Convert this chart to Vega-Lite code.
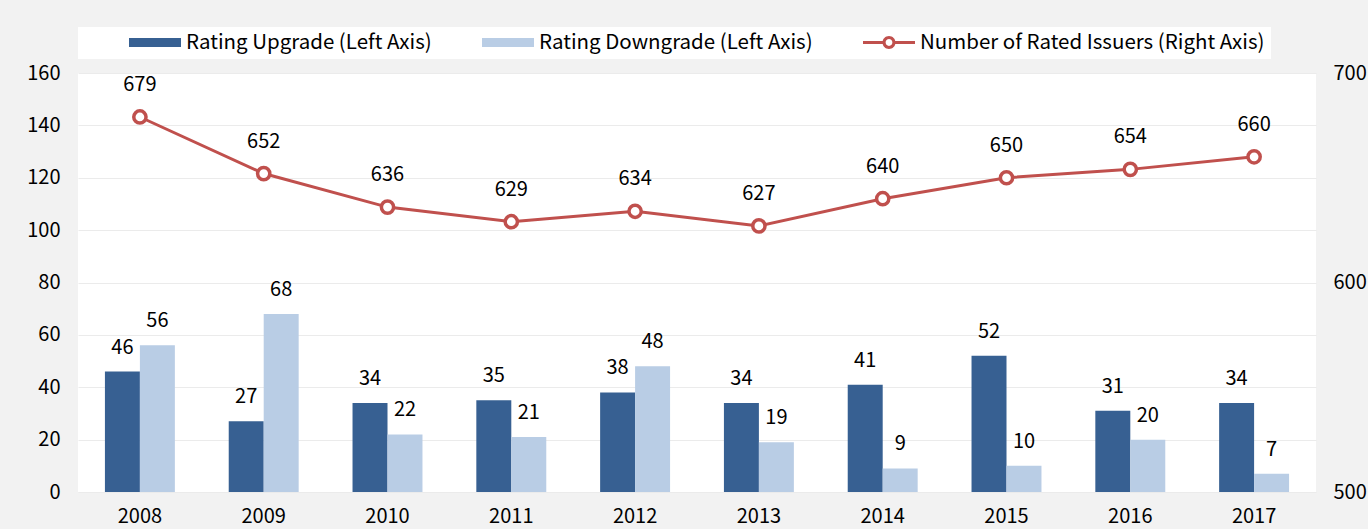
{
  "$schema": "https://vega.github.io/schema/vega-lite/v6.json",
  "width": 1238,
  "height": 419,
  "autosize": "none",
  "padding": {"left": 78, "top": 73, "right": 52, "bottom": 37},
  "background": "#f2f2f2",
  "config": {
    "view": {"fill": "white", "stroke": null},
    "font": "Noto Sans CJK JP",
    "axis": {"labelFontSize": 20, "labelColor": "#000000", "domain": false, "ticks": false, "title": null, "labelFont": "Noto Sans CJK JP"},
    "legend": {"labelFont": "Noto Sans CJK JP"}
  },
  "data": {
    "values": [
      {"year": "2008", "Upgrade": 46, "Downgrade": 56, "Issuers": 679},
      {"year": "2009", "Upgrade": 27, "Downgrade": 68, "Issuers": 652},
      {"year": "2010", "Upgrade": 34, "Downgrade": 22, "Issuers": 636},
      {"year": "2011", "Upgrade": 35, "Downgrade": 21, "Issuers": 629},
      {"year": "2012", "Upgrade": 38, "Downgrade": 48, "Issuers": 634},
      {"year": "2013", "Upgrade": 34, "Downgrade": 19, "Issuers": 627},
      {"year": "2014", "Upgrade": 41, "Downgrade": 9, "Issuers": 640},
      {"year": "2015", "Upgrade": 52, "Downgrade": 10, "Issuers": 650},
      {"year": "2016", "Upgrade": 31, "Downgrade": 20, "Issuers": 654},
      {"year": "2017", "Upgrade": 34, "Downgrade": 7, "Issuers": 660}
    ]
  },
  "encoding": {
    "x": {
      "field": "year",
      "type": "nominal",
      "scale": {"paddingInner": 0.435, "paddingOuter": 0.2175},
      "axis": {"labelAngle": 0, "labelPadding": 14}
    }
  },
  "layer": [
    {
      "transform": [{"fold": ["Upgrade", "Downgrade"], "as": ["series", "count"]}],
      "encoding": {
        "xOffset": {"field": "series", "type": "nominal", "sort": ["Upgrade", "Downgrade"]},
        "y": {
          "field": "count",
          "type": "quantitative",
          "scale": {"domain": [0, 160], "nice": false},
          "axis": {"values": [0, 20, 40, 60, 80, 100, 120, 140, 160], "grid": true, "gridColor": "#ebebeb", "gridWidth": 1, "labelPadding": 18}
        }
      },
      "layer": [
        {
          "mark": {"type": "bar"},
          "encoding": {
            "color": {
              "field": "series",
              "type": "nominal",
              "scale": {"domain": ["Upgrade", "Downgrade", "Issuers"], "range": ["#376092", "#b9cde5", "#c0504d"]},
              "legend": {
                "orient": "none",
                "legendX": 0,
                "legendY": -46,
                "direction": "horizontal",
                "columns": 3,
                "fillColor": "white",
                "padding": 6,
                "title": " ",
                "titleOrient": "left",
                "titlePadding": 45,
                "titleFontSize": 10,
                "columnPadding": 50,
                "clipHeight": 19,
                "labelLimit": 700,
                "labelFontSize": 20.5,
                "labelColor": "#000000",
                "labelOffset": 5,
                "symbolSize": 2704,
                "symbolStrokeWidth": 0,
                "symbolType": "M-1,-0.17H1V0.17H-1Z",
                "labelExpr": "datum.value === 'Upgrade' ? 'Rating Upgrade (Left Axis)' : datum.value === 'Downgrade' ? 'Rating Downgrade (Left Axis)' : 'Number of Rated Issuers (Right Axis)'",
                "encode": {
                  "symbols": {
                    "update": {
                      "shape": {"signal": "datum.value === 'Issuers' ? 'M-1,-0.06H-0.22V0.06H-1Z M0.22,-0.06H1V0.06H0.22Z M0.25,0A0.25,0.25 0 1 1 -0.25,0A0.25,0.25 0 1 1 0.25,0Z M0.13,0A0.13,0.13 0 1 0 -0.13,0A0.13,0.13 0 1 0 0.13,0Z M16.2,0' : 'M-1,-0.17H1V0.17H-1Z'"},
                      "strokeWidth": {"value": 0},
                      "opacity": {"value": 1}
                    }
                  }
                }
              }
            }
          }
        },
        {
          "mark": {"type": "text", "baseline": "alphabetic", "dy": -18, "fontSize": 20, "color": "#000000"},
          "encoding": {"text": {"field": "count", "type": "quantitative"}}
        }
      ]
    },
    {
      "encoding": {
        "y": {
          "field": "Issuers",
          "type": "quantitative",
          "scale": {"domain": [500, 700], "nice": false, "zero": false},
          "axis": {"orient": "right", "values": [500, 600, 700], "grid": false, "labelPadding": 17}
        }
      },
      "layer": [
        {
          "mark": {"type": "line", "strokeWidth": 3},
          "encoding": {"color": {"datum": "Issuers"}}
        },
        {
          "mark": {"type": "point", "filled": true, "fill": "#ffffff", "stroke": "#c0504d", "strokeWidth": 3.5, "size": 150, "opacity": 1},
          "encoding": {}
        },
        {
          "mark": {"type": "text", "baseline": "alphabetic", "dy": -26, "fontSize": 20, "color": "#000000"},
          "encoding": {"text": {"field": "Issuers", "type": "quantitative"}}
        }
      ]
    }
  ],
  "resolve": {"scale": {"y": "independent"}}
}
